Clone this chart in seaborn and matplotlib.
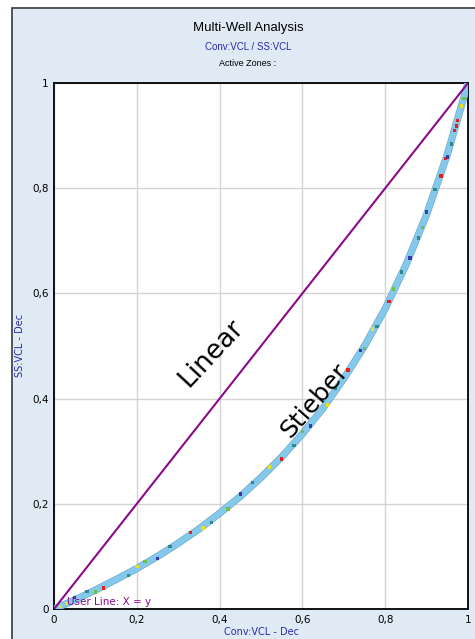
import matplotlib
matplotlib.use("Agg")
import matplotlib.pyplot as plt
from matplotlib.patches import Rectangle
import pandas as pd
import seaborn as sns

# Stieber trend read along the crossplot band (Conv:VCL vs SS:VCL)
stieber_x = [0.0, 0.05, 0.10, 0.15, 0.20, 0.25, 0.30, 0.35, 0.40, 0.45, 0.50,
             0.55, 0.60, 0.65, 0.70, 0.75, 0.80, 0.85, 0.90, 0.95, 1.0]
stieber_y = [0.0, 0.017, 0.036, 0.056, 0.077, 0.100, 0.125, 0.152, 0.182, 0.214, 0.250,
             0.289, 0.333, 0.382, 0.438, 0.500, 0.571, 0.654, 0.750, 0.864, 1.0]

# Individual well samples scattered through the band
well_names = ["Well A", "Well B", "Well C", "Well D", "Well E"]
well_colors = ["#2e8b8b", "#e8201a", "#e6e020", "#3b3ba8", "#6cbf4a"]
well_x = [
    [0.08, 0.18, 0.28, 0.38, 0.48, 0.58, 0.68, 0.78, 0.84, 0.88, 0.92, 0.96],
    [0.12, 0.33, 0.55, 0.71, 0.809, 0.935, 0.945, 0.968, 0.972, 0.975],
    [0.015, 0.03, 0.20, 0.36, 0.52, 0.66, 0.77, 0.985],
    [0.05, 0.25, 0.45, 0.62, 0.74, 0.86, 0.90, 0.95],
    [0.10, 0.22, 0.42, 0.60, 0.75, 0.82, 0.89, 0.99],
]
well_y = [
    [0.033, 0.064, 0.119, 0.165, 0.240, 0.311, 0.419, 0.537, 0.641, 0.705, 0.798, 0.884],
    [0.040, 0.145, 0.285, 0.454, 0.585, 0.823, 0.856, 0.910, 0.918, 0.929],
    [0.005, 0.010, 0.081, 0.154, 0.270, 0.388, 0.532, 0.956],
    [0.022, 0.096, 0.219, 0.348, 0.491, 0.667, 0.755, 0.859],
    [0.032, 0.090, 0.190, 0.338, 0.495, 0.608, 0.725, 0.971],
]

# User line X = y
user_x = [0.0, 1.0]
user_y = [0.0, 1.0]

tick_vals = [0, 0.2, 0.4, 0.6, 0.8, 1]
tick_labels = ["0", "0,2", "0,4", "0,6", "0,8", "1"]

panel_bg = "#dfeaf5"
label_blue = "#2b2ba6"
user_purple = "#8b0a8b"

fig = plt.figure(figsize=(4.75, 6.39), dpi=100, facecolor="white")
fig.add_artist(Rectangle((12 / 475, -0.02), 1.2, 1 - 8 / 639 + 0.02,
                         transform=fig.transFigure, facecolor=panel_bg,
                         edgecolor="#3a3a3a", linewidth=1.2, zorder=0))

ax = fig.add_axes([54 / 475, 1 - 609 / 639, 414 / 475, 526 / 639])
ax.set_facecolor("white")
ax.set_xlim(0, 1)
ax.set_ylim(0, 1)
ax.grid(True, color="#d4d4d4", linewidth=1.0)
ax.set_axisbelow(True)

curve = pd.DataFrame({"x": stieber_x, "y": stieber_y})
sns.lineplot(data=curve, x="x", y="y", ax=ax, color="#6fa8c4", linewidth=5.2,
             sort=False, zorder=3)
sns.lineplot(data=curve, x="x", y="y", ax=ax, color="#84c9ec", linewidth=4.3,
             sort=False, zorder=3)

rows = []
for name, xs, ys in zip(well_names, well_x, well_y):
    for xv, yv in zip(xs, ys):
        rows.append({"well": name, "x": xv, "y": yv})
wells = pd.DataFrame(rows)
sns.scatterplot(data=wells, x="x", y="y", hue="well", palette=well_colors,
                marker="s", s=6, linewidth=0, legend=False, ax=ax, zorder=4)

user = pd.DataFrame({"x": user_x, "y": user_y})
sns.lineplot(data=user, x="x", y="y", ax=ax, color=user_purple, linewidth=1.5,
             zorder=5)

ax.text(0.38, 0.487, "Linear", rotation=47, rotation_mode="anchor",
        ha="center", va="center", fontsize=19, family="DejaVu Sans", zorder=6)
ax.text(0.63, 0.397, "Stieber", rotation=49, rotation_mode="anchor",
        ha="center", va="center", fontsize=18, family="DejaVu Sans", zorder=6)
ax.text(0.032, 0.004, "User Line: X = y", color=user_purple, fontsize=7.5,
        family="DejaVu Sans", ha="left", va="bottom", zorder=6)

ax.set_xticks(tick_vals)
ax.set_xticklabels(tick_labels)
ax.set_yticks(tick_vals)
ax.set_yticklabels(tick_labels)
ax.tick_params(length=0, pad=4, labelsize=7.5, colors="black")
for lab in ax.get_xticklabels() + ax.get_yticklabels():
    lab.set_family("DejaVu Sans")
ax.set_xlabel("")
ax.set_ylabel("")
for sp in ax.spines.values():
    sp.set_color("black")
    sp.set_linewidth(1.3)
    sp.set_visible(True)

fig.text(248 / 475, 1 - 28 / 639, "Multi-Well Analysis", ha="center",
         va="center", fontsize=9.5, family="Liberation Sans")
fig.text(248 / 475, 1 - 47 / 639, "Conv:VCL / SS:VCL", ha="center",
         va="center", fontsize=7, family="Liberation Sans", color=label_blue)
fig.text(248 / 475, 1 - 64 / 639, "Active Zones :", ha="center",
         va="center", fontsize=6.5, family="Liberation Sans")
fig.text(20 / 475, 1 - 345 / 639, "SS:VCL - Dec", rotation=90, ha="center",
         va="center", fontsize=7, family="DejaVu Sans", color=label_blue)
fig.text(261 / 475, 1 - 632 / 639, "Conv:VCL - Dec", ha="center",
         va="center", fontsize=7, family="DejaVu Sans", color=label_blue)

fig.savefig("out.png", dpi=100, facecolor="white")
